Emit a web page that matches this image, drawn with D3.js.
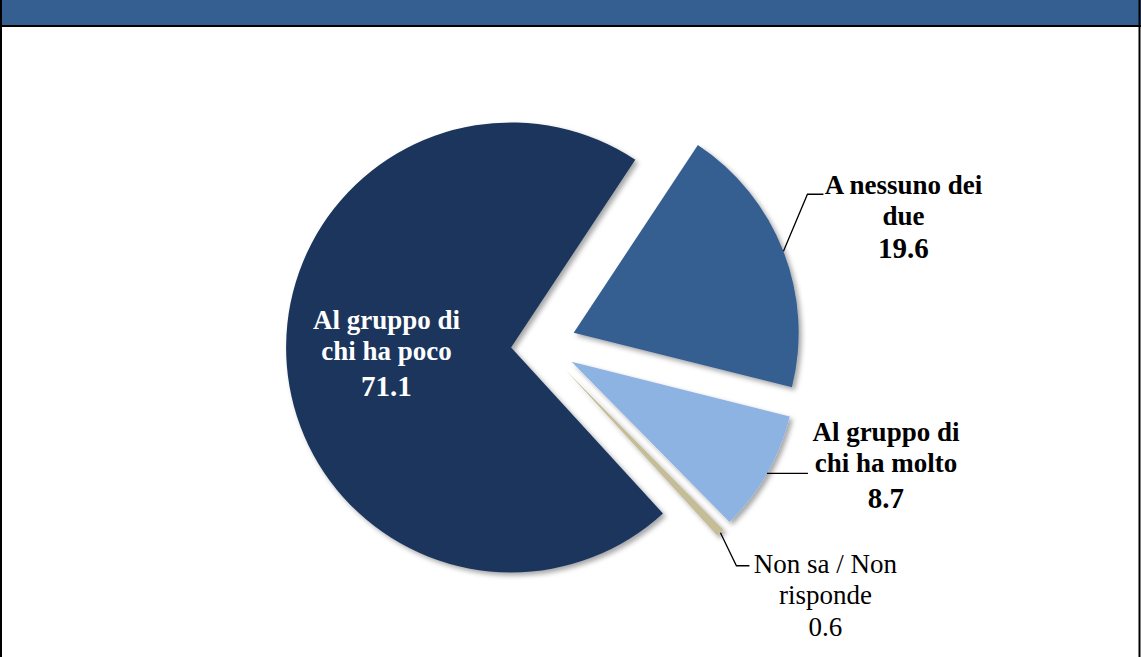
<!DOCTYPE html>
<html>
<head>
<meta charset="utf-8">
<script src="https://cdn.jsdelivr.net/npm/d3@7"></script>
<style>
body { margin:0; background:#fff; }
svg { display:block; }
</style>
</head>
<body>
<svg id="chart"></svg>
<script>
// data
var categories = ["A nessuno dei due", "Al gruppo di chi ha molto", "Non sa / Non risponde", "Al gruppo di chi ha poco"]
var labelLines = [["A nessuno dei", "due"], ["Al gruppo di", "chi ha molto"], ["Non sa / Non", "risponde"], ["Al gruppo di", "chi ha poco"]]
var values = [19.6, 8.7, 0.6, 71.1]
var colors = ["#365f91", "#8db3e2", "#c4bd97", "#1b365d"]

var screen = {width:1141, height:657}
var center = {x:542, y:345}
var radius = 225
var explode = [34, 34, 34, 31]
var startDeg = 33.5
var serif = "\"Liberation Serif\""

// label layout, offsets from the point of the arc at the slice middle
var labelLayout = [
    {leader:[[24,-57],[40,-57]], tx:120, ty:-57, bold:true, numGap:33},
    {leader:[[41,0]], tx:119, ty:-32, bold:true, numGap:36},
    {leader:[[16,33],[29,33]], tx:105, ty:40, bold:false, numGap:32},
    {inside:true, tx:0, ty:-28, bold:true, numGap:36, fill:"#fff"}
]

var svg = d3.select("#chart")
    .attr("width", screen.width)
    .attr("height", screen.height)

var defs = svg.append("defs")
defs.append("filter")
    .attr("id", "shadow")
    .attr("x", "-20%").attr("y", "-20%")
    .attr("width", "140%").attr("height", "140%")
    .append("feDropShadow")
    .attr("dx", 3).attr("dy", 3)
    .attr("stdDeviation", 2.5)
    .attr("flood-color", "#000")
    .attr("flood-opacity", 0.35)

// frame and header
svg.append("rect")
    .attr("x", 0).attr("y", 0)
    .attr("width", screen.width).attr("height", 25)
    .attr("fill", "#365f91")
svg.append("line")
    .attr("x1", 0).attr("x2", screen.width)
    .attr("y1", 26).attr("y2", 26)
    .attr("stroke", "#000").attr("stroke-width", 2)
svg.append("line")
    .attr("x1", 1).attr("x2", 1)
    .attr("y1", 0).attr("y2", screen.height)
    .attr("stroke", "#000").attr("stroke-width", 2)
svg.append("line")
    .attr("x1", 1139.5).attr("x2", 1139.5)
    .attr("y1", 0).attr("y2", screen.height)
    .attr("stroke", "#000").attr("stroke-width", 2)

var toRad = function(d) { return d * Math.PI / 180 }

var pie = d3.pie()
    .sort(null)
    .value(function(d) { return d })
    .startAngle(toRad(startDeg))
    .endAngle(toRad(startDeg) + 2 * Math.PI)

var arc = d3.arc()
    .innerRadius(0)
    .outerRadius(radius)

var rimArc = d3.arc()
    .innerRadius(radius)
    .outerRadius(radius)

var slices = pie(values)

var offset = function(s, i) {
    var mid = (s.startAngle + s.endAngle) / 2
    return [center.x + explode[i] * Math.sin(mid), center.y - explode[i] * Math.cos(mid)]
}

var g = svg.append("g").classed("pie", true)

g.selectAll("path")
    .data(slices)
    .enter()
    .append("path")
    .attr("d", arc)
    .attr("fill", function(s, i) { return colors[i] })
    .attr("filter", "url(#shadow)")
    .attr("transform", function(s, i) {
        var o = offset(s, i)
        return "translate(" + o[0] + "," + o[1] + ")"
    })

var fmt = d3.format(".1f")
var labels = svg.append("g").classed("labels", true)

slices.forEach(function(s, i) {
    var lay = labelLayout[i]
    var o = offset(s, i)
    var anchor
    if (lay.inside) {
        var c = d3.arc().innerRadius(0).outerRadius(250).centroid(s)
        anchor = [o[0] + c[0], o[1] + c[1]]
    } else {
        var p = rimArc.centroid(s)
        anchor = [o[0] + p[0], o[1] + p[1]]
        var pts = [anchor].concat(lay.leader.map(function(q) { return [anchor[0] + q[0], anchor[1] + q[1]] }))
        labels.append("path")
            .attr("d", d3.line()(pts))
            .attr("fill", "none")
            .attr("stroke", "#000")
            .attr("stroke-width", 1.3)
    }
    var lx = anchor[0] + lay.tx
    var ly = anchor[1] + lay.ty
    labelLines[i].forEach(function(line, k) {
        labels.append("text")
            .style("font-family", serif)
            .attr("font-size", 27)
            .attr("font-weight", lay.bold ? "bold" : "normal")
            .attr("text-anchor", "middle")
            .attr("fill", lay.fill || "#000")
            .attr("x", lx)
            .attr("y", ly + k * 31)
            .text(line)
    })
    labels.append("text")
        .style("font-family", serif)
        .attr("font-size", lay.bold ? 29 : 27)
        .attr("font-weight", lay.bold ? "bold" : "normal")
        .attr("text-anchor", "middle")
        .attr("fill", lay.fill || "#000")
        .attr("x", lx)
        .attr("y", ly + (labelLines[i].length - 1) * 31 + lay.numGap)
        .text(fmt(values[i]))
})
</script>
</body>
</html>
